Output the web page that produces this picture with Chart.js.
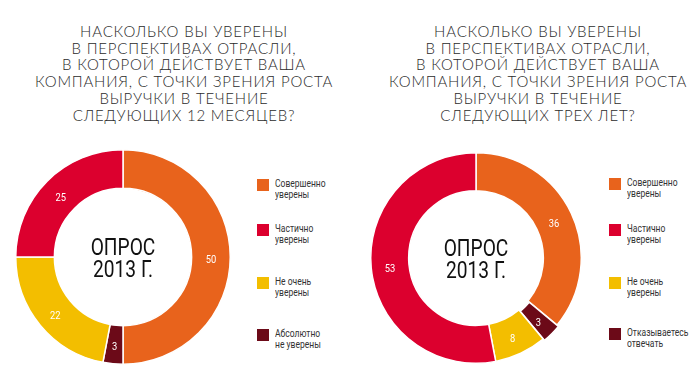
<!DOCTYPE html>
<html>
<head>
<meta charset="utf-8">
<script src="https://cdn.jsdelivr.net/npm/chart.js@4/dist/chart.umd.min.js"></script>
<style>
    html, body { margin: 0; padding: 0; background: #fff; }
    body { width: 699px; height: 386px; position: relative; overflow: hidden; }
    .title {
        position: absolute; top: 23px; width: 340px; text-align: center;
        font-family: Lato, sans-serif; font-weight: 300; font-size: 15px;
        letter-spacing: 0.8px;
        line-height: 16.7px; color: #2b2b2b; text-transform: uppercase;
    }
    .box { position: absolute; }
    .legend { position: absolute; font-family: Roboto, sans-serif; font-size: 11.5px; color: #333; line-height: 10.5px; }
    .legend .item { position: absolute; left: 0; white-space: nowrap; }
    .legend .sw { position: absolute; left: 0; top: 0; width: 12px; height: 12px; }
    .legend .tx { position: absolute; left: 18px; top: -1px; transform: scaleX(0.74); transform-origin: 0 0; }
</style>
</head>
<body>
<div class="title" id="t1" style="left:14px"></div>
<div class="title" id="t2" style="left:368px"></div>
<div class="box" style="left:15px;top:149px;width:216px;height:216px"><canvas id="c1"></canvas></div>
<div class="box" style="left:368px;top:150px;width:216px;height:216px"><canvas id="c2"></canvas></div>
<div class="legend" id="l1" style="left:257px;top:179px"></div>
<div class="legend" id="l2" style="left:609px;top:178px"></div>
<script>
// titles
const title1 = ['Насколько вы уверены', 'в перспективах отрасли,', 'в которой действует ваша', 'компания, с точки зрения роста', 'выручки в течение', 'следующих 12 месяцев?'];
const title2 = ['Насколько вы уверены', 'в перспективах отрасли,', 'в которой действует ваша', 'компания, с точки зрения роста', 'выручки в течение', 'следующих трех лет?'];

// slice order clockwise from the top
const labels1 = ['Совершенно уверены', 'Абсолютно не уверены', 'Не очень уверены', 'Частично уверены'];
const values1 = [50, 3, 22, 25];
const labels2 = ['Совершенно уверены', 'Отказываетесь отвечать', 'Не очень уверены', 'Частично уверены'];
const values2 = [36, 3, 8, 53];
const colors = ['#e8631c', '#6c0a18', '#f3be00', '#dc002e'];
const offsets2 = [0, 4, 0, 0];

// legend order (indexes into the slice arrays)
const legendOrder = [0, 3, 2, 1];
const legendText1 = ['Совершенно\nуверены', 'Частично\nуверены', 'Не очень\nуверены', 'Абсолютно\nне уверены'];
const legendText2 = ['Совершенно\nуверены', 'Частично\nуверены', 'Не очень\nуверены', 'Отказываетесь\nотвечать'];
const legendTops1 = [0, 45, 98, 150];
const legendTops2 = [0, 46, 99, 150];

const centerText = ['ОПРОС', '2013 Г.'];

document.getElementById('t1').innerHTML = title1.join('<br>');
document.getElementById('t2').innerHTML = title2.join('<br>');

function buildLegend(id, texts, tops) {
    const el = document.getElementById(id);
    legendOrder.forEach(function (idx, i) {
        const item = document.createElement('div');
        item.className = 'item';
        item.style.top = tops[i] + 'px';
        item.innerHTML = '<div class="sw" style="background:' + colors[idx] + '"></div>' +
            '<div class="tx">' + texts[i].replace('\n', '<br>') + '</div>';
        el.appendChild(item);
    });
}
buildLegend('l1', legendText1, legendTops1);
buildLegend('l2', legendText2, legendTops2);

// condensed text: squeeze the canvas horizontally around x
function narrowText(ctx, text, x, y, sx) {
    ctx.save();
    ctx.translate(x, y);
    ctx.scale(sx, 1);
    ctx.fillText(text, 0, 0);
    ctx.restore();
}

// numbers on the slices and the text in the hole
const ringText = {
    id: 'ringText',
    afterDatasetsDraw(chart) {
        const ctx = chart.ctx;
        const meta = chart.getDatasetMeta(0);
        const data = chart.data.datasets[0].data;
        ctx.save();
        ctx.fillStyle = '#fff';
        ctx.textAlign = 'center';
        ctx.textBaseline = 'middle';
        ctx.font = '11px Roboto, sans-serif';
        meta.data.forEach(function (arc, i) {
            const p = arc.tooltipPosition();
            narrowText(ctx, String(data[i]), p.x, p.y + 3, 0.85);
        });
        const a = meta.data[0];
        ctx.fillStyle = '#111';
        ctx.font = '24px Roboto, sans-serif';
        narrowText(ctx, centerText[0], a.x, a.y - 8, 0.8);
        narrowText(ctx, centerText[1], a.x, a.y + 14, 0.8);
        ctx.restore();
    }
};

function makeChart(id, labels, values, offsets) {
    new Chart(document.getElementById(id), {
        type: 'doughnut',
        data: {
            labels: labels,
            datasets: [{
                data: values,
                backgroundColor: colors,
                borderColor: '#fff',
                borderWidth: 1.5,
                offset: offsets
            }]
        },
        options: {
            responsive: true,
            maintainAspectRatio: false,
            animation: false,
            cutout: '64%',
            plugins: {
                legend: { display: false },
                tooltip: { enabled: false }
            }
        },
        plugins: [ringText]
    });
}

makeChart('c1', labels1, values1, [0, 0, 0, 0]);
makeChart('c2', labels2, values2, offsets2);
</script>
</body>
</html>
